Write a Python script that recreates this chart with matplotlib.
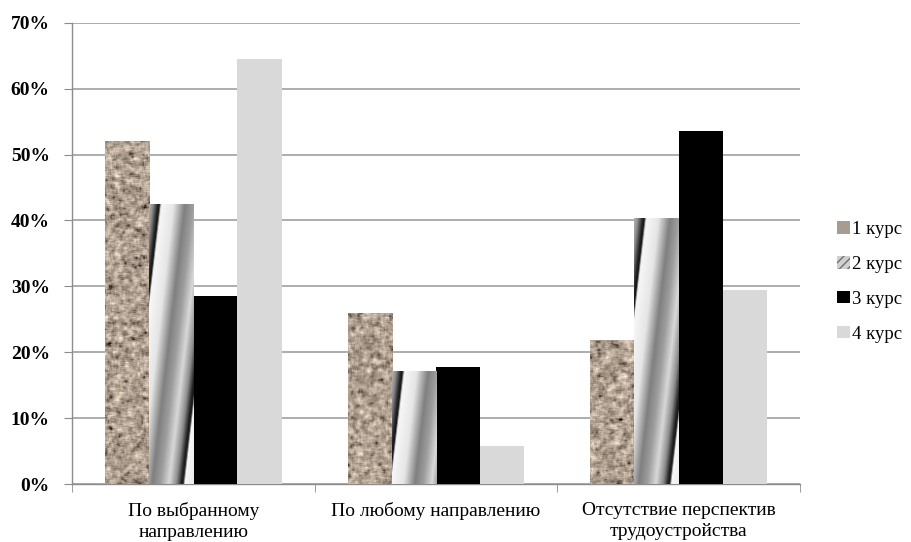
import numpy as np
import matplotlib
matplotlib.use("Agg")
import matplotlib.pyplot as plt
from matplotlib.patches import Patch
from matplotlib.ticker import PercentFormatter

# ---- data ----
categories = ["По выбранному\nнаправлению", "По любому направлению",
              "Отсутствие перспектив\nтрудоустройства"]
series_names = ["1 курс", "2 курс", "3 курс", "4 курс"]
kurs1 = [52.0, 26.0, 21.8]
kurs2 = [42.5, 17.1, 40.4]
kurs3 = [28.5, 17.8, 53.5]
kurs4 = [64.5, 5.8, 29.4]
values = [kurs1, kurs2, kurs3, kurs4]
yticks = [0, 10, 20, 30, 40, 50, 60, 70]

plt.rcParams['font.family'] = ['Liberation Serif', 'DejaVu Serif']

fig = plt.figure(figsize=(9.12, 5.42), dpi=100)
ax = fig.add_axes([0.079, 0.107, 0.798, 0.851])

x = np.arange(len(categories))
w = 0.182
bars = []
solid = ["#a89b90", "#c8c8c8", "#000000", "#d9d9d9"]
for i, vals in enumerate(values):
    b = ax.bar(x + (i - 1.5) * w, vals, width=w, color=solid[i], zorder=3,
               linewidth=0)
    bars.append(b)

ax.set_xlim(-0.5, 2.5)
ax.set_ylim(0, 70)
ax.set_yticks(yticks)
ax.yaxis.set_major_formatter(PercentFormatter(decimals=0))
for lbl in ax.get_yticklabels():
    lbl.set_fontweight('bold')
ax.tick_params(axis='y', labelsize=14, length=6, color='#8c8c8c', pad=10)
ax.set_xticks(x)
ax.set_xticklabels(categories, fontsize=14, linespacing=1.3)
ax.set_xticks([-0.5, 0.5, 1.5, 2.5], minor=True)
ax.tick_params(axis='x', which='major', length=0, pad=13)
ax.tick_params(axis='x', which='minor', length=6, color='#8c8c8c')
ax.yaxis.grid(True, color='#a0a0a0', linewidth=1.2, zorder=0)
ax.set_axisbelow(True)
for s in ['top', 'right']:
    ax.spines[s].set_visible(False)
for s in ['left', 'bottom']:
    ax.spines[s].set_color('#8c8c8c')
    ax.spines[s].set_linewidth(1.0)

fig.canvas.draw()

# ---- textures ----
rng = np.random.default_rng(3)

def blur(a, k):
    H, W = a.shape[0] - 2 * k, a.shape[1] - 2 * k
    acc = np.zeros((H, W))
    for dy in range(2 * k + 1):
        for dx in range(2 * k + 1):
            acc += a[dy:dy + H, dx:dx + W]
    return acc

def granite(H, W):
    k = 2
    n = rng.standard_normal((H + 2 * k, W + 2 * k))
    coarse = blur(n, k)
    coarse /= coarse.std() + 1e-9
    n2 = rng.standard_normal((H + 2, W + 2))
    mid = blur(n2, 1)
    mid /= mid.std() + 1e-9
    t = 0.7 * coarse + 0.5 * mid
    base = np.array([0.68, 0.62, 0.56])
    img = base[None, None, :] + np.array([0.11, 0.105, 0.10])[None, None, :] * t[:, :, None]
    img -= 0.10 * np.clip(-t - 1.2, 0, None)[:, :, None]
    return np.clip(img, 0, 1)

def stripes(H, W):
    r = np.arange(H)[:, None]
    c = np.arange(W)[None, :]
    c0 = 10 - r / 8.7
    p = ((c - c0) / 55.0) % 1.0
    xp = [0.0, 0.03, 0.25, 0.45, 0.6, 0.75, 0.88, 0.97, 1.0]
    fp = [0.15, 0.97, 0.9, 0.5, 0.62, 0.85, 0.55, 0.12, 0.1]
    v = np.interp(p, xp, fp)
    return np.dstack([v, v, v])

for i, tex in [(0, granite), (1, stripes)]:
    for patch in bars[i].patches:
        bb = patch.get_window_extent()
        W = max(int(round(bb.width)), 2)
        H = max(int(round(bb.height)), 2)
        img = tex(H, W)
        x0 = patch.get_x()
        x1 = x0 + patch.get_width()
        im = ax.imshow(img, extent=(x0, x1, 0, patch.get_height()),
                       aspect='auto', origin='upper', zorder=4,
                       interpolation='bilinear')
        im.set_clip_path(patch)

ax.set_xlim(-0.5, 2.5)
ax.set_ylim(0, 70)

# ---- legend ----
handles = [
    Patch(facecolor="#a89b90", edgecolor='none'),
    Patch(facecolor="#d0d0d0", edgecolor='#707070', hatch='////', linewidth=0),
    Patch(facecolor="#000000", edgecolor='none'),
    Patch(facecolor="#d9d9d9", edgecolor='none'),
]
leg = fig.legend(handles, series_names, loc='center left',
                 bbox_to_anchor=(0.91, 0.48), frameon=False, fontsize=13.5,
                 handlelength=0.65, handleheight=0.65, handletextpad=0.12,
                 labelspacing=0.95, borderaxespad=0)

fig.savefig("out.png", dpi=100)
